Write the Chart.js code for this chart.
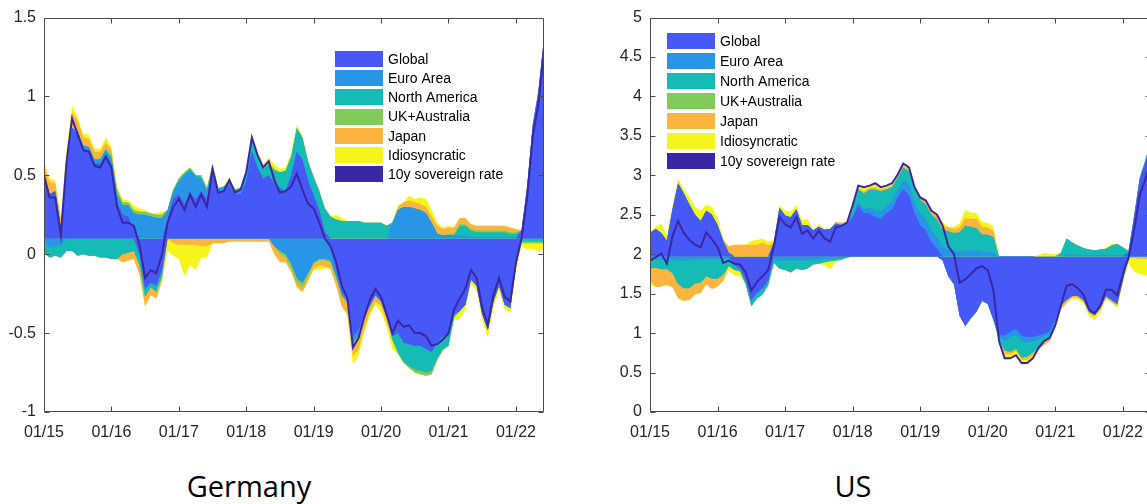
<!DOCTYPE html>
<html>
<head>
<meta charset="utf-8">
<script src="https://cdn.jsdelivr.net/npm/chart.js@4.4.0/dist/chart.umd.min.js"></script>
<style>
  html, body { margin: 0; padding: 0; background: #fff; overflow: hidden; width: 1147px; height: 504px; }
  canvas { position: absolute; top: 0; }
  #chartDE { left: 0; }
  #chartUS { left: 603px; }
  .panel-title { position: absolute; top: 469px; font-family: 'Open Sans', sans-serif; font-size: 29px;
                 line-height: 34px; color: #000; transform: translateX(-50%); white-space: nowrap; }
</style>
</head>
<body>
<canvas id="chartDE" width="560" height="450"></canvas>
<canvas id="chartUS" width="560" height="450"></canvas>
<div class="panel-title" style="left:249px">Germany</div>
<div class="panel-title" style="left:853px">US</div>
<script>
// Monthly observations, Jan 2015 (0) to Jun 2022 (89)
const monthIndex = Array.from({ length: 90 }, (_, i) => i);
const yearTickMonths = [0, 12, 24, 36, 48, 60, 72, 84];
const yearTickLabels = ['01/15', '01/16', '01/17', '01/18', '01/19', '01/20', '01/21', '01/22'];

const seriesNames = ['Global', 'Euro Area', 'North America', 'UK+Australia', 'Japan', 'Idiosyncratic'];
const seriesColors = ['#4658f5', '#2995e6', '#14bcb5', '#80cb5a', '#fbb43e', '#f6f51a'];
const rateName = '10y sovereign rate';
const rateColor = '#3b27a5';

// ---- Germany: contributions relative to the sample mean (0.1) ----
const deMean = 0.1;
const deGlobal = [
  .40,.28,.30,.07,.47,.70,.66,.56,.55,.48,.47,.53,
  .47,.23,.15,.14,.06,-.10,-.32,-.28,-.30,-.20,.12,.25,
  .28,.22,.28,.25,.30,.25,.40,.28,.30,.34,.28,.28,
  .36,.55,.45,.38,.40,.35,.32,.30,.40,.55,.50,.37,
  .27,.18,.04,-.04,-.20,-.34,-.38,-.62,-.58,-.48,-.42,-.36,
  -.40,-.50,-.62,-.60,-.66,-.67,-.68,-.68,-.70,-.72,-.66,-.62,
  -.62,-.48,-.46,-.42,-.26,-.30,-.48,-.58,-.40,-.30,-.42,-.44,
  -.18,.05,.33,.72,.93,1.27];
const deEuroArea = [
  .00,-.06,-.05,-.05,.00,.00,.02,.03,.03,.02,.03,.03,
  .04,.05,.06,.07,.10,.15,.15,.14,.13,.13,.06,.05,
  .08,.18,.15,.14,.08,.05,.05,.03,.02,.02,.02,.02,
  .02,.01,.01,.00,.00,-.05,-.08,-.10,-.16,-.25,-.28,-.22,
  -.15,-.13,-.13,-.10,-.04,-.02,-.02,-.04,-.03,-.02,-.01,.00,
  .00,.00,.10,.18,.20,.20,.19,.18,.16,.10,.03,.02,
  .02,.02,.02,.02,.01,.01,.01,.01,.01,.01,.01,.01,
  .01,.00,.00,.00,.00,.00];
const deNorthAmerica = [
  -.09,-.06,-.06,-.07,-.08,-.08,-.11,-.10,-.11,-.11,-.12,-.12,
  -.13,-.13,-.10,-.09,-.08,-.07,-.05,-.03,-.04,-.04,.00,.00,
  .01,.01,.01,.01,.01,.01,.01,.01,.01,.01,.01,.02,
  .04,.06,.06,.06,.07,.08,.10,.13,.12,.15,.14,.12,
  .12,.12,.15,.14,.12,.11,.11,.11,.11,.10,.10,.10,
  .10,.08,-.02,-.12,-.12,-.14,-.15,-.16,-.15,-.12,-.10,-.08,
  -.06,-.02,.06,.06,.04,.03,.03,.03,.03,.03,.03,.02,
  .02,-.02,-.02,-.02,-.02,-.02];
const deUKAustralia = [
  .00,.00,.00,.00,.01,.00,.00,.00,.00,.00,.01,.01,
  .02,.03,.02,.02,.02,.02,.02,.02,.02,.02,.00,.01,
  .01,.01,.01,.00,.01,.01,.01,.00,.00,.00,.00,.00,
  .00,.01,.01,.01,.01,.01,-.02,-.02,-.03,-.03,-.03,-.02,
  -.01,-.01,-.01,-.01,-.01,-.01,-.01,-.01,-.01,-.01,.00,.00,
  .00,.00,.00,-.01,-.01,-.01,-.02,-.02,-.02,-.02,-.01,-.01,
  .01,.01,.01,.01,.01,.01,.01,.01,.01,.01,.01,.01,
  .01,-.01,-.01,-.01,-.01,-.01];
const deJapan = [
  .06,.08,.05,.05,.05,.10,.07,.05,.05,.05,.04,.04,
  .03,.01,-.05,-.05,-.05,-.06,-.06,-.05,-.04,-.03,.00,-.03,
  -.04,-.04,-.04,-.04,-.05,-.05,-.03,-.03,-.03,-.02,-.02,-.02,
  -.02,-.02,-.02,-.02,-.02,-.05,-.05,-.03,-.02,-.03,-.03,-.03,
  -.03,-.03,-.04,-.04,-.05,-.06,-.07,-.08,-.08,-.06,-.04,-.04,
  -.03,-.03,-.01,.02,.03,.04,.04,.04,.04,.04,.05,.04,
  .04,.04,.04,.04,.03,.03,.03,.03,.03,.03,.03,.03,
  .02,.00,.00,.00,.00,.00];
const deIdiosyncratic = [
  .03,.02,.02,.02,.03,.04,.02,.02,.03,.02,.02,.03,
  .02,.01,.02,.01,.03,.02,.01,.00,.01,.02,-.08,-.08,
  -.09,-.20,-.13,-.16,-.07,-.07,.00,.00,.00,.02,.00,.01,
  .02,.03,.02,.02,.03,.03,.02,.02,.02,.02,.01,.00,
  -.01,-.03,-.01,.00,.03,.02,-.01,-.05,-.04,-.03,-.02,-.02,
  -.04,-.03,-.05,.01,.00,.03,.02,.04,.05,.04,.02,.01,
  .01,-.02,-.05,-.03,-.03,-.03,-.04,-.05,-.04,-.03,-.03,-.03,
  -.03,-.02,-.04,-.04,-.05,-.04];
const deRate = [
  .50,.36,.36,.12,.58,.86,.76,.66,.65,.56,.55,.62,
  .55,.30,.20,.20,.18,.06,-.15,-.10,-.12,.00,.20,.30,
  .35,.28,.38,.30,.38,.30,.54,.39,.40,.47,.39,.41,
  .52,.74,.63,.55,.59,.47,.39,.40,.43,.51,.41,.32,
  .29,.20,.10,.05,-.05,-.20,-.28,-.59,-.53,-.40,-.29,-.22,
  -.27,-.38,-.50,-.42,-.46,-.45,-.50,-.50,-.52,-.58,-.57,-.54,
  -.50,-.35,-.28,-.22,-.10,-.15,-.34,-.45,-.26,-.15,-.27,-.30,
  -.05,.10,.36,.75,.95,1.30];

// ---- US: contributions relative to the sample mean (1.97) ----
const usMean = 1.97;
const usGlobal = [
  .30,.35,.30,.20,.60,.93,.80,.66,.53,.45,.58,.53,
  .40,.20,.05,-.10,-.15,-.30,-.55,-.45,-.40,-.30,.18,.62,
  .52,.50,.60,.40,.40,.33,.38,.34,.35,.42,.40,.42,
  .50,.65,.55,.55,.50,.48,.55,.60,.75,.85,.78,.55,
  .40,.33,.18,.10,-.05,-.25,-.35,-.75,-.88,-.78,-.70,-.56,
  -.60,-.80,-1.00,-1.00,-.95,-.92,-1.00,-1.02,-1.02,-1.00,-.98,-.95,
  -.80,-.60,-.55,-.50,-.50,-.55,-.70,-.74,-.65,-.50,-.55,-.60,
  -.30,.05,.50,.98,1.20,1.45];
const usEuroArea = [
  -.03,-.04,-.04,-.04,-.04,-.05,-.05,-.04,-.04,-.03,-.03,-.03,
  -.03,-.03,-.02,-.02,-.02,-.02,-.03,-.02,-.02,-.02,-.03,-.05,
  -.05,-.05,-.05,-.05,-.05,-.04,-.04,-.03,-.03,-.02,-.02,-.01,
  .03,.05,.05,.08,.08,.10,.10,.10,.10,.12,.14,.14,
  .15,.15,.15,.15,.12,.10,.08,.06,.07,.08,.08,.06,
  .06,.05,-.02,-.07,-.08,-.07,-.08,-.07,-.06,-.05,-.04,-.03,
  -.03,-.02,.03,.03,.02,.02,.02,.02,.02,.02,.02,.02,
  .02,.00,.00,.00,.00,.00];
const usNorthAmerica = [
  -.12,-.10,-.12,-.12,-.17,-.30,-.35,-.36,-.30,-.30,-.22,-.25,
  -.25,-.20,-.10,-.05,-.02,-.03,-.05,-.06,-.06,-.04,-.05,-.10,
  -.12,-.15,-.10,-.12,-.10,-.06,-.05,-.04,-.03,-.03,-.02,.00,
  .08,.15,.20,.22,.27,.25,.20,.18,.15,.16,.16,.17,
  .17,.18,.20,.22,.22,.22,.22,.25,.32,.30,.28,.22,
  .22,.20,-.03,-.12,-.18,-.18,-.20,-.18,-.14,-.10,-.04,-.04,
  -.02,.05,.20,.15,.12,.09,.07,.06,.07,.08,.12,.14,
  .10,.02,.02,.02,.02,.03];
const usUKAustralia = [
  .00,.00,.00,.00,.00,.00,.00,.00,.00,.00,.00,.00,
  .00,.00,.00,.00,.00,.00,.00,.00,.00,.00,.00,.00,
  .00,.00,.00,.00,.00,.00,.00,.00,.00,.00,.00,.00,
  .00,.00,.00,.00,.00,.00,.00,.00,.00,.00,.00,.00,
  .00,.00,.00,.00,.00,.00,.00,.00,.00,.00,.00,.00,
  .00,.00,.00,.00,.00,.00,.00,.00,.00,.00,.00,.00,
  .00,.00,.00,.00,.00,.00,.00,.00,.00,.00,.00,.00,
  .00,.00,.00,.00,.00,.00];
const usJapan = [
  -.15,-.25,-.22,-.20,-.18,-.18,-.16,-.15,-.14,-.13,-.10,-.13,
  -.10,-.08,.08,.15,.15,.15,.15,.15,.18,.14,.00,.00,
  .00,.00,.00,.00,.00,.00,.00,.00,.00,.02,.03,.02,
  .02,.02,.03,.02,.03,.02,.02,.02,.02,.02,.02,.02,
  .03,.03,.03,.04,.05,.05,.05,.06,.10,.10,.12,.10,
  .09,.08,-.01,-.04,-.03,-.03,-.03,-.04,-.03,-.03,-.06,-.05,
  -.05,-.05,-.03,-.02,-.02,-.02,-.02,-.02,-.02,-.03,-.03,-.03,
  -.02,-.02,-.02,-.03,-.03,-.04];
const usIdiosyncratic = [
  -.05,.03,.12,.07,.05,.05,.06,.10,.10,.13,.08,.10,
  .10,.03,-.06,-.07,-.06,.00,.05,.06,.05,.05,.03,.03,
  .06,.07,.05,.06,.08,.00,.04,-.04,-.10,-.02,.00,.00,
  .02,.03,.05,.03,.05,.03,.03,.03,.02,.03,.03,.00,
  .00,.02,.02,.02,.05,.01,.03,.05,.10,.08,.07,.06,
  .06,.05,-.01,-.06,-.05,-.05,-.04,-.04,-.04,.02,.05,.04,
  .03,.00,-.02,-.01,-.02,-.02,-.04,-.04,-.04,.01,.02,-.02,
  -.02,-.07,-.17,-.19,-.21,-.21];
const usRate = [
  1.92,1.96,2.01,1.88,2.23,2.42,2.27,2.18,2.12,2.09,2.28,2.19,
  2.09,1.89,1.92,1.88,1.87,1.77,1.54,1.65,1.72,1.80,2.10,2.47,
  2.38,2.34,2.47,2.26,2.30,2.20,2.30,2.20,2.16,2.34,2.36,2.40,
  2.62,2.87,2.85,2.87,2.90,2.85,2.87,2.90,3.01,3.15,3.10,2.85,
  2.72,2.68,2.55,2.50,2.36,2.10,2.00,1.64,1.68,1.75,1.82,1.85,
  1.80,1.55,.90,.68,.68,.72,.62,.62,.68,.81,.90,.94,
  1.10,1.35,1.60,1.62,1.57,1.49,1.30,1.25,1.35,1.55,1.55,1.48,
  1.75,1.95,2.30,2.75,2.95,3.20];

const tickFont = { family: "'Liberation Sans', Arial, sans-serif", size: 16 };
const tickColor = '#262626';

// Box around the plot with short inward tick marks on all four sides
const frameTicks = {
  id: 'frameTicks',
  afterDatasetsDraw(chart, args, opts) {
    const { ctx, chartArea: a, scales: { x, y } } = chart;
    const L = Math.round(a.left) + 0.5, R = Math.round(a.right) - 0.5;
    const T = Math.round(a.top) + 0.5, B = Math.round(a.bottom) - 0.5;
    ctx.save();
    ctx.strokeStyle = opts.color;
    ctx.lineWidth = 1;
    ctx.beginPath();
    ctx.rect(L, T, R - L, B - T);
    x.ticks.forEach(t => {
      const px = Math.round(x.getPixelForValue(t.value)) + 0.5;
      ctx.moveTo(px, B); ctx.lineTo(px, B - opts.length);
      ctx.moveTo(px, T); ctx.lineTo(px, T + opts.length);
    });
    y.ticks.forEach(t => {
      const py = Math.round(y.getPixelForValue(t.value)) + 0.5;
      ctx.moveTo(L, py); ctx.lineTo(L + opts.length, py);
      ctx.moveTo(R, py); ctx.lineTo(R - opts.length, py);
    });
    ctx.stroke();
    ctx.restore();
  }
};

// Legend drawn inside the plot area
const inlineLegend = {
  id: 'inlineLegend',
  afterDraw(chart, args, o) {
    const ctx = chart.ctx;
    ctx.save();
    ctx.font = o.font;
    ctx.textBaseline = 'middle';
    o.items.forEach((it, i) => {
      const cy = o.top + i * o.pitch;
      ctx.fillStyle = it.color;
      ctx.fillRect(o.left, Math.round(cy - o.boxH / 2), o.boxW, o.boxH);
      ctx.fillStyle = '#000';
      ctx.fillText(it.label, o.left + o.boxW + o.gap, cy + 1);
    });
    ctx.restore();
  }
};

function buildPanel(canvasId, p) {
  const datasets = [];
  const pos = [], neg = [];
  let accP = monthIndex.map(() => p.mean);
  let accN = monthIndex.map(() => p.mean);
  p.components.forEach((vals, k) => {
    accP = accP.map((a, i) => a + Math.max(vals[i], 0));
    accN = accN.map((a, i) => a + Math.min(vals[i], 0));
    const mk = acc => ({
      label: seriesNames[k],
      data: monthIndex.map((m, i) => ({ x: m, y: acc[i] })),
      backgroundColor: seriesColors[k],
      borderColor: 'rgba(0,0,0,0)',
      borderWidth: 0,
      pointRadius: 0,
      fill: { value: p.mean },
      order: 0
    });
    pos.push(mk(accP.slice()));
    neg.push(mk(accN.slice()));
  });
  datasets.push(...pos, ...neg);
  datasets.push({
    label: rateName,
    data: monthIndex.map((m, i) => ({ x: m, y: p.rate[i] })),
    borderColor: rateColor,
    borderWidth: 2,
    pointRadius: 0,
    fill: false,
    order: -1
  });

  const legendItems = seriesNames.map((n, k) => ({ label: n, color: seriesColors[k] }))
    .concat([{ label: rateName, color: rateColor }]);

  return new Chart(document.getElementById(canvasId), {
    type: 'line',
    data: { datasets },
    plugins: [frameTicks, inlineLegend],
    options: {
      responsive: false,
      animation: false,
      devicePixelRatio: 1,
      events: [],
      layout: { padding: { top: 16, right: p.padRight, left: 0, bottom: 0 } },
      elements: { line: { tension: 0 } },
      plugins: {
        legend: { display: false },
        tooltip: { enabled: false },
        title: { display: false },
        frameTicks: { color: '#4a4a4a', length: 5 },
        inlineLegend: {
          items: legendItems, left: p.legend.left, top: p.legend.top, pitch: p.legend.pitch,
          boxW: 48, boxH: 16, gap: 5, font: "14px 'Liberation Sans', Arial, sans-serif"
        }
      },
      scales: {
        x: {
          type: 'linear', min: 0, max: 89,
          grid: { display: false, drawTicks: false }, border: { display: false },
          afterBuildTicks: s => { s.ticks = yearTickMonths.map(v => ({ value: v })); },
          ticks: {
            autoSkip: false, maxRotation: 0, padding: 11, font: tickFont, color: tickColor,
            callback: (v, i) => yearTickLabels[i]
          },
          afterFit: s => { s.height = 38; }
        },
        y: {
          min: p.yMin, max: p.yMax,
          grid: { display: false, drawTicks: false }, border: { display: false },
          ticks: { stepSize: 0.5, padding: 8, font: tickFont, color: tickColor, callback: v => String(v) },
          afterFit: s => { s.width = p.yWidth; }
        }
      }
    }
  });
}

buildPanel('chartDE', {
  mean: deMean, rate: deRate,
  components: [deGlobal, deEuroArea, deNorthAmerica, deUKAustralia, deJapan, deIdiosyncratic],
  yMin: -1, yMax: 1.5, yWidth: 44, padRight: 16,
  legend: { left: 335, top: 59, pitch: 19.2 }
});

buildPanel('chartUS', {
  mean: usMean, rate: usRate,
  components: [usGlobal, usEuroArea, usNorthAmerica, usUKAustralia, usJapan, usIdiosyncratic],
  yMin: 0, yMax: 5, yWidth: 47, padRight: 12,
  legend: { left: 64, top: 41, pitch: 20 }
});
</script>
</body>
</html>
